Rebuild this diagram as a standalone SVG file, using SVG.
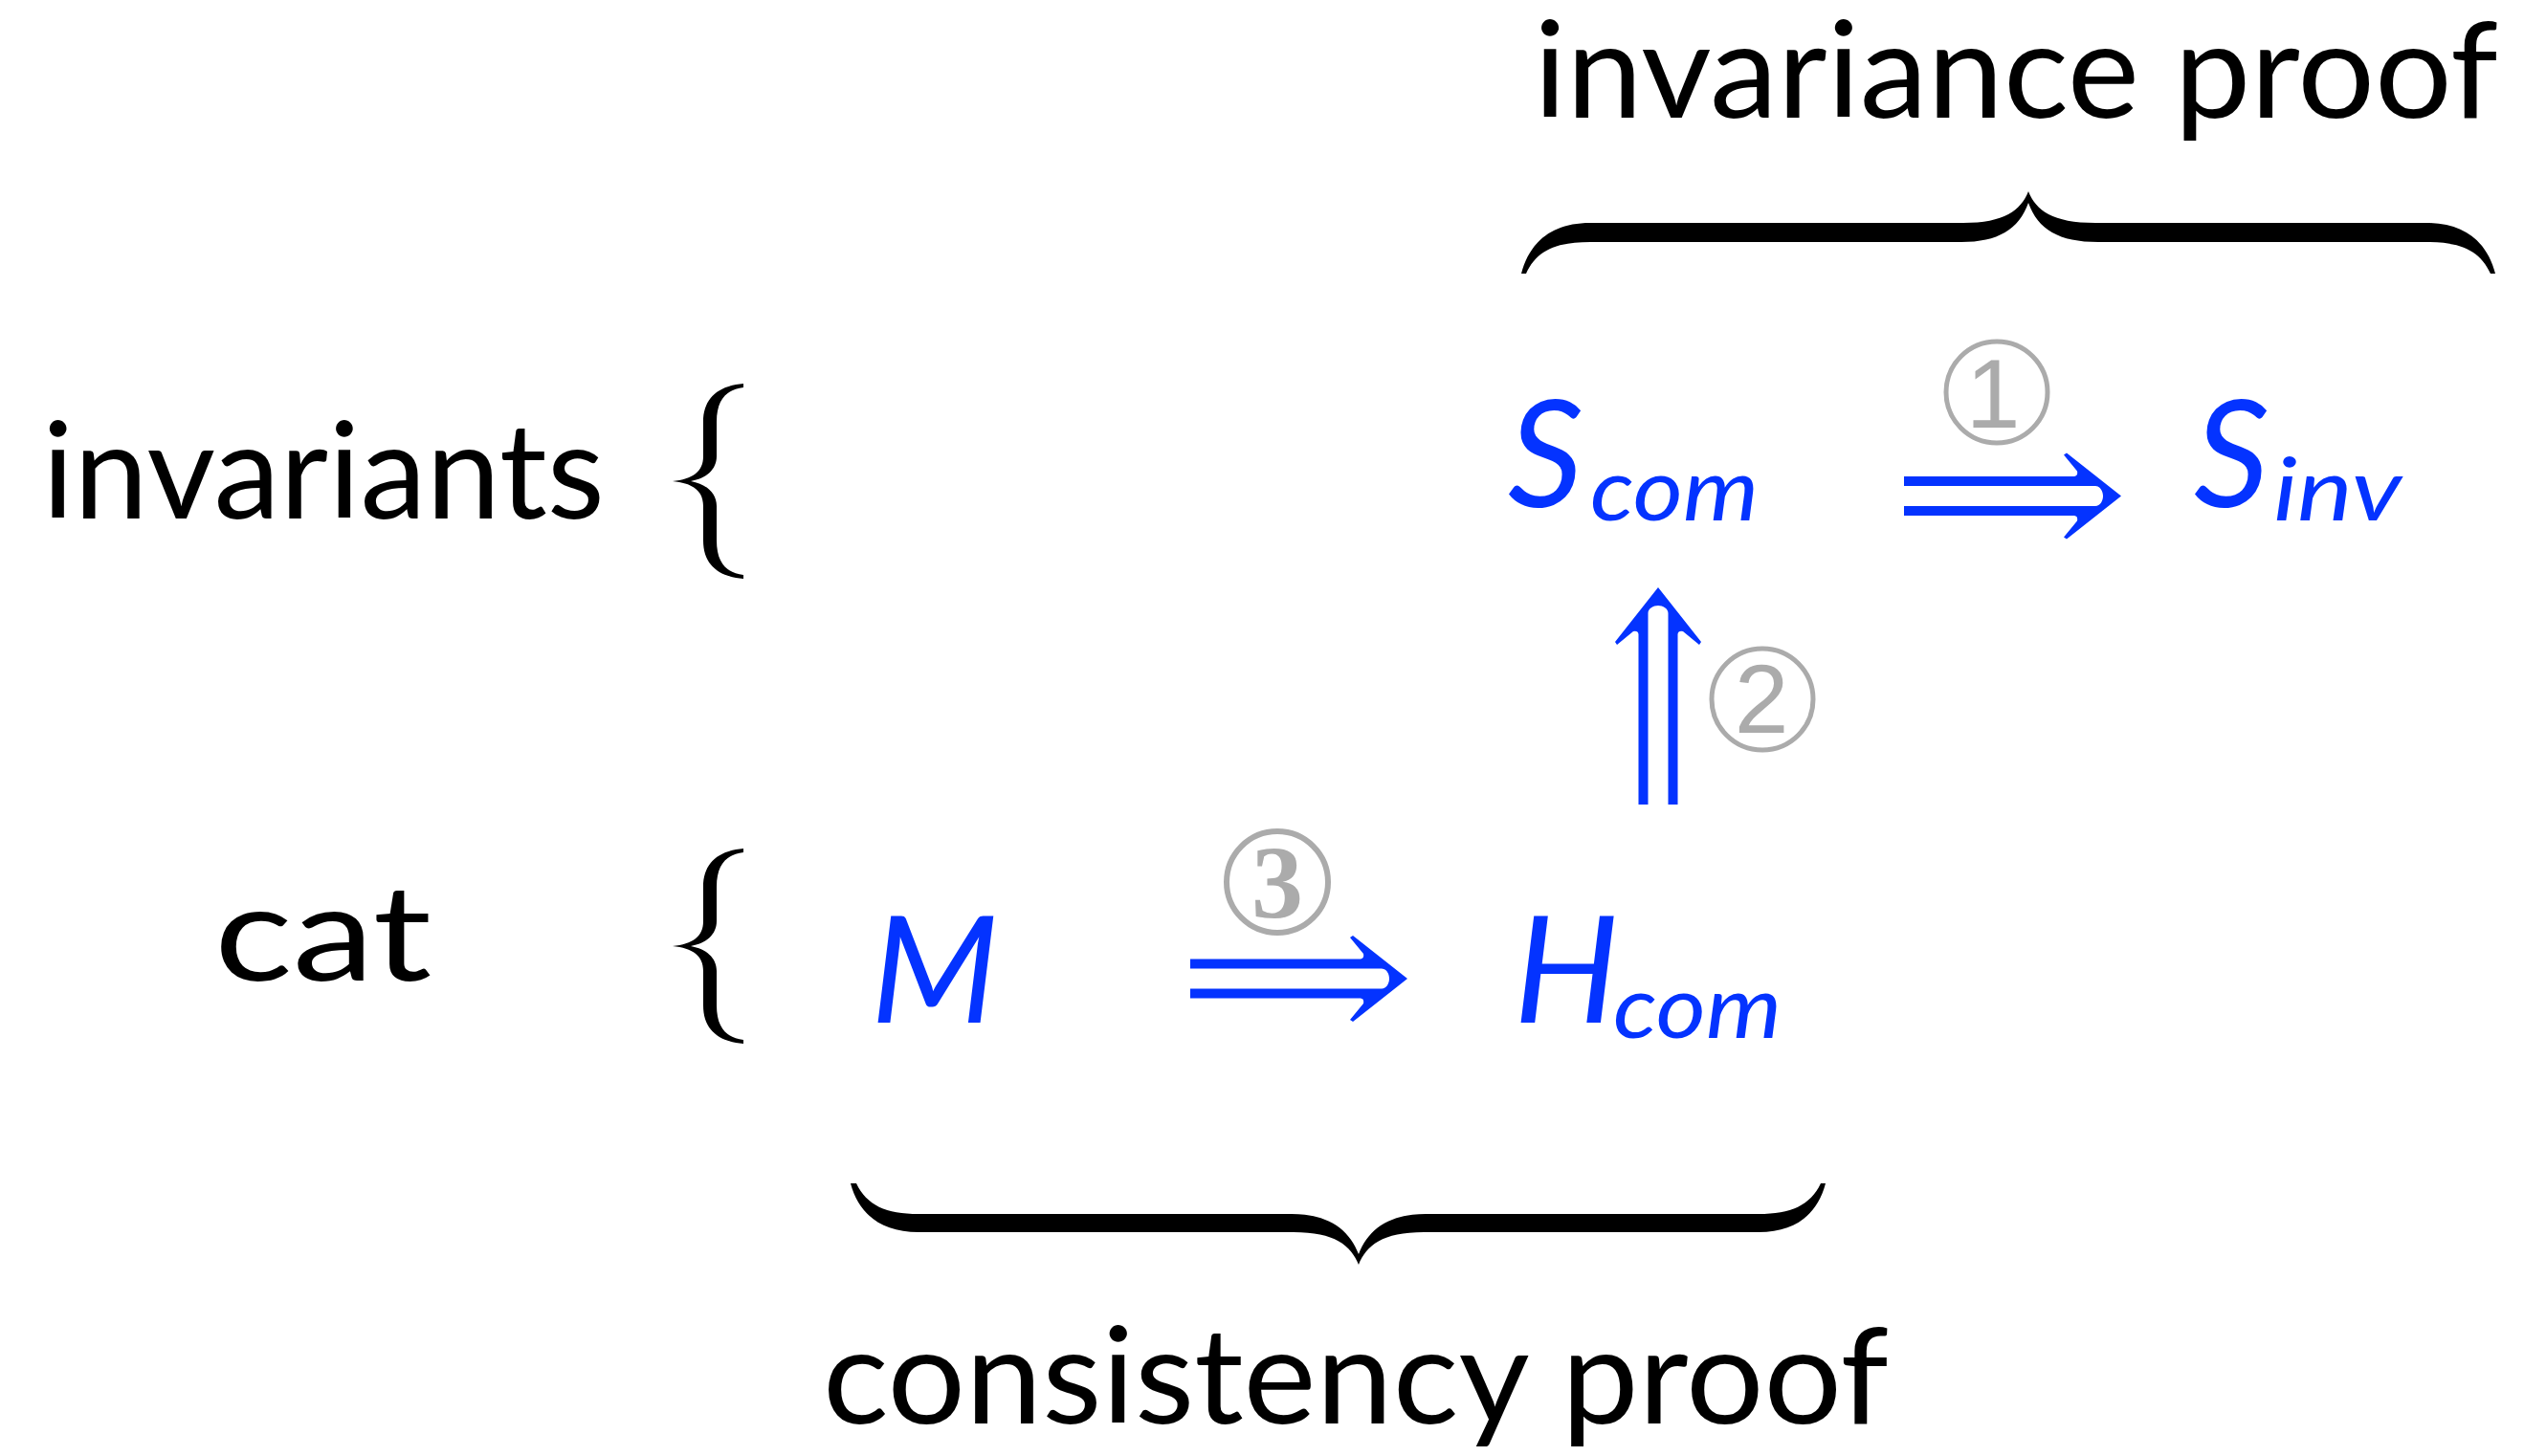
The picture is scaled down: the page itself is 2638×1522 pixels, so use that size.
<svg xmlns="http://www.w3.org/2000/svg" xmlns:xlink="http://www.w3.org/1999/xlink" width="2638" height="1522" viewBox="0 0 2638 1522">
<style>
.lbl{font-family:Lato,"Open Sans","Liberation Sans",sans-serif;fill:#000;font-size:140px}
.math{font-family:Lato,"Open Sans","Liberation Sans",sans-serif;font-style:italic;fill:#0433ff}
.circ{fill:none;stroke:#ababab;stroke-width:5}
.dig{font-family:"Liberation Sans",Arial,sans-serif;fill:#ababab;text-anchor:middle;font-size:102px}
.dig3{font-family:"Liberation Serif","Times New Roman",serif;font-weight:bold;fill:#ababab;text-anchor:middle;font-size:108px}
.arrow{fill:#0433ff}
.brace{fill:#000}
</style>
<defs>
<path id="dblarrow" d="M0,0 L-57,-45 L-60,-43 L-46,-26 Q-45,-21 -49,-20.5 L-227,-20.5 L-227,-10.5 L-27,-10.5 C-22,-10.5 -19,-5 -19,0 C-19,5 -22,10.5 -27,10.5 L-227,10.5 L-227,20.5 L-49,20.5 Q-45,21 -46,26 L-60,43 L-57,45 Z"/>
<path id="lbrace" d="M777,-102 C752,-100 735,-88 735,-62 L735,-26 C735,-10 724,-2 703,0 C724,2 735,10 735,26 L735,62 C735,88 752,100 777,102 L777,98 C760,96 749,86 749,62 L749,26 C749,12 738,3 722,0 C738,-3 749,-12 749,-26 L749,-62 C749,-86 760,-96 777,-98 Z"/>
</defs>

<g id="label-invariance-proof"><text class="lbl" x="1603" y="123" textLength="1008" lengthAdjust="spacingAndGlyphs">invariance proof</text></g>
<g id="brace-invariance" class="brace"><path d="M1590,286 C1598,255 1620,233 1662,233 L2052,233 C2095,233 2112,220 2120,200 C2128,220 2145,233 2190,233 L2536,233 C2578,233 2600,255 2608,286 L2603,286 C2592,262 2572,253 2536,253 L2193,253 C2152,253 2130,240 2120,212 C2110,240 2088,253 2050,253 L1662,253 C1626,253 1606,262 1595,286 Z"/></g>

<g id="label-consistency-proof"><text class="lbl" x="860" y="1488" textLength="1114" lengthAdjust="spacingAndGlyphs">consistency proof</text></g>
<g id="brace-consistency" class="brace"><path d="M889,1237 C897,1268 920,1288 960,1288 L1352,1288 C1395,1288 1412,1302 1420,1322 C1428,1302 1445,1288 1488,1288 L1838,1288 C1878,1288 1900,1268 1908,1237 L1903,1237 C1892,1260 1872,1269 1838,1269 L1490,1269 C1452,1269 1430,1285 1420,1311 C1410,1285 1388,1269 1350,1269 L960,1269 C926,1269 906,1260 895,1237 Z"/></g>

<g id="label-invariants"><text class="lbl" x="44" y="542" textLength="588" lengthAdjust="spacingAndGlyphs">invariants</text>
<use xlink:href="#lbrace" href="#lbrace" class="brace" transform="translate(0,503)"/></g>
<g id="label-cat"><text class="lbl" x="224" y="1025" textLength="227" lengthAdjust="spacingAndGlyphs">cat</text>
<use xlink:href="#lbrace" href="#lbrace" class="brace" transform="translate(0,989)"/></g>

<g id="node-scom"><text class="math" x="1576" y="530" font-size="155">S</text><text class="math" x="1662" y="544" font-size="92" textLength="176" lengthAdjust="spacingAndGlyphs">com</text></g>
<g id="node-sinv"><text class="math" x="2293" y="530" font-size="155">S</text><text class="math" x="2376" y="544" font-size="92" textLength="134" lengthAdjust="spacingAndGlyphs">inv</text></g>
<g id="node-m"><text class="math" x="910" y="1069" font-size="155">M</text></g>
<g id="node-hcom"><text class="math" x="1582" y="1069" font-size="155">H</text><text class="math" x="1686" y="1085" font-size="92" textLength="176" lengthAdjust="spacingAndGlyphs">com</text></g>

<g id="connectors">
<use xlink:href="#dblarrow" href="#dblarrow" class="arrow" transform="translate(2217,518.5)"/>
<use xlink:href="#dblarrow" href="#dblarrow" class="arrow" transform="translate(1733,614) rotate(-90)"/>
<use xlink:href="#dblarrow" href="#dblarrow" class="arrow" transform="translate(1471,1023)"/>
</g>

<g id="step-1"><circle class="circ" cx="2087" cy="410" r="53"/><text class="dig" x="2083" y="447">1</text></g>
<g id="step-2"><circle class="circ" cx="1842" cy="731" r="53"/><text class="dig" x="1841" y="766">2</text></g>
<g id="step-3"><circle class="circ" cx="1335" cy="922" r="53" style="stroke-width:6"/><text class="dig3" x="1335" y="959">3</text></g>
</svg>
